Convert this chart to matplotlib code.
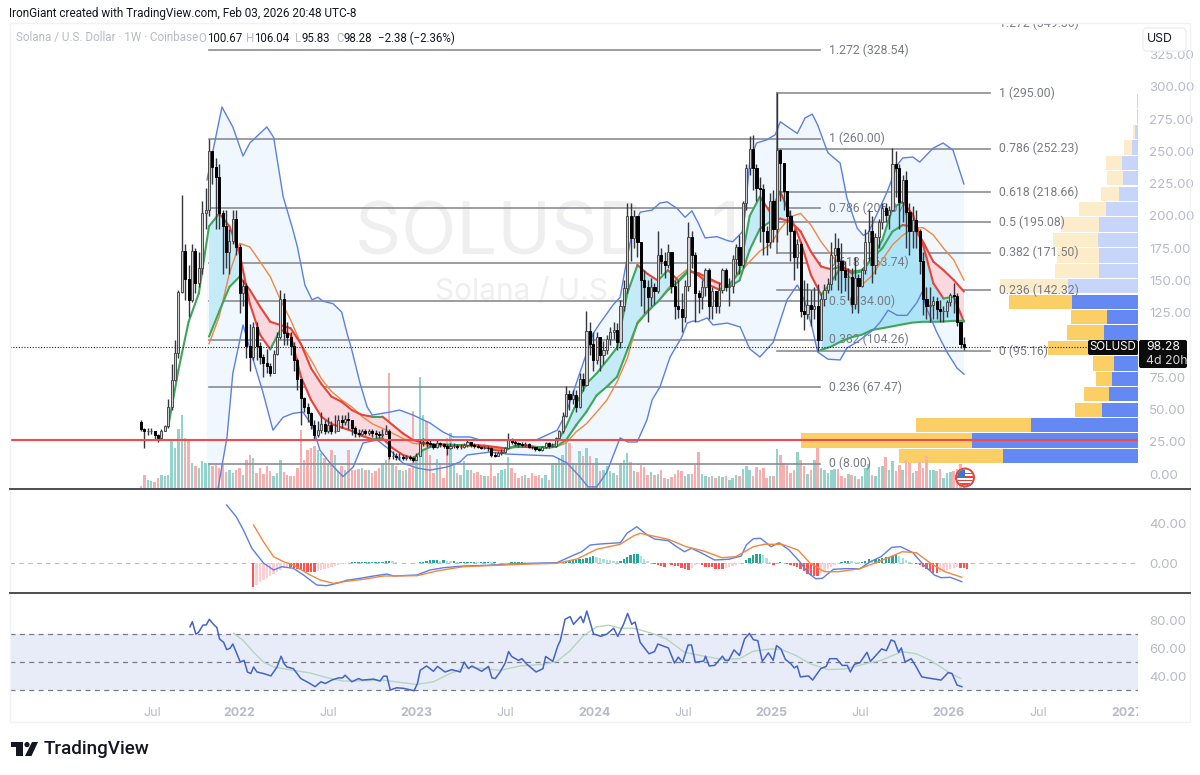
import numpy as np
import matplotlib
matplotlib.use("Agg")
import matplotlib.pyplot as plt
from matplotlib.patches import Rectangle, Circle, FancyBboxPatch, Polygon

plt.rcParams["font.family"] = ["Inter", "DejaVu Sans"]

# weekly candles
closes = [35,33,33,33,30,28,33,37,52,73,94,141,173,151,135,173,148,160,202,205,250,238,230,202,192,172,181,198,176,140,
          146,99,91,114,99,91,86,84,78,93,106,136,109,106,99,88,74,59,52,47,38,30,34,39,33,38,33,33,42,40,
          43,42,36,32,31,33,32,33,32,31,30,31,33,14,14,13,13,12.5,13,12.5,11,14,24,25,24,23.5,21,24,23,22,
          20.5,22,22,21,21,22.5,25,22.5,22,21,20.5,20.5,20,14.5,14,16,17,20,26,25,24,23,22.5,23,21,20.7,19,18.5,21,23.7,
          22,22,28,33,45,62,58,61,52,74,69,111,101,88,106,92,96,105,110,112,102,130,144,200,183,200,180,150,145,137,
          145,142,170,165,162,172,146,130,128,122,146,184,170,140,137,145,158,130,142,130,143,158,145,146,167,176,162,210,237,252,
          237,222,221,188,180,212,190,251,241,219,200,188,168,178,126,124,131,128,130,104,136,143,147,170,175,165,158,153,153,132,
          152,146,158,180,188,162,184,195,206,201,205,240,237,211,228,203,188,197,188,165,136,130,131,134,128,126,126,133,139,138,
          118,100.67,98.28]
opens = [40] + closes[:-1]
highs = [42,36,36,36,33,31,35,38,58,85,104,143,216,178,162,178,175,172,212,222,260,250,245,240,205,205,190,205,205,178,
         150,148,116,118,118,102,93,97,86,96,110,143,140,118,110,102,90,74,60,55,48,42,41,48,42,44,41,46,46,46,
         46,48,42,37,35,35,35,35,35,34,33,35,38,35,18,16,16,15,15,15,14,16,26,28,27,26,24,26,25,24,
         23,24,24,23,23,24,27,25,24,23,22,22,22,21,17,18,19,21,32,28,26,25,25,25,24,22,21,20,22,25,
         25,24,29,34,48,68,65,65,65,78,78,126,118,110,110,103,103,108,114,118,117,135,150,210,210,205,200,180,158,150,
         152,148,188,175,172,178,170,150,150,140,150,195,188,172,143,150,160,160,145,140,148,160,160,152,170,178,185,212,240,262,
         263,240,230,225,192,218,220,295,252,240,218,205,190,182,180,150,148,143,145,147,140,147,152,180,187,183,179,165,160,160,
         168,155,160,190,205,200,187,198,210,210,208,253,250,240,232,235,210,208,205,190,172,145,145,138,137,135,130,135,140,148,
         140,118,106.04]
lows = [33,20,30,31,26,25,28,35,36,50,72,90,140,135,122,133,140,145,155,190,200,225,190,190,155,160,155,178,170,125,
        130,90,80,88,88,85,75,78,76,78,92,105,100,100,92,80,65,38,48,40,35,26,29,32,31,32,31,32,35,36,
        38,35,30,29,29,30,30,30,29,28,28,29,31,12,12,11,11,11,11,11,9.6,11,14,22,21,21,19,20,21,20,
        15,19,20,19,19,20,21,21,20,20,19,19,18,13,13,14,15,16,20,23,22,21,21,21,20,19,18,18,18,20,
        20,21,21,27,32,44,50,54,48,51,64,68,92,80,85,80,85,93,100,105,96,98,126,140,165,175,168,130,125,118,
        130,132,140,155,152,160,140,120,121,110,118,142,160,118,125,128,138,120,120,125,125,140,142,130,140,155,155,160,205,232,
        220,212,180,170,170,175,180,180,212,205,185,165,150,160,122,112,120,115,120,95.16,118,130,140,143,150,143,140,142,135,125,
        128,125,145,155,165,148,155,175,190,195,190,204,215,190,195,175,170,175,175,155,123,120,118,120,120,118,118,122,130,125,
        115,98,95.83]
volumes = [2,13,8,7,6,10,13,12,13,47,40,59,73,50,48,25,22,20,27,25,25,22,23,20,23,16,18,15,18,20,
           13,28,33,30,15,20,14,22,17,12,15,28,16,13,12,12,20,58,28,38,40,42,38,35,30,25,38,33,17,22,
           18,38,18,18,19,20,18,18,15,17,20,25,28,115,25,22,18,17,18,20,77,42,111,73,67,33,15,29,25,10,
           50,55,25,15,13,27,18,18,15,16,13,12,12,25,12,15,18,19,31,20,15,10,12,13,10,15,12,13,10,13,
           8,25,25,30,33,47,45,25,23,37,32,40,32,23,30,17,18,22,17,15,13,25,28,35,26,17,16,23,21,13,
           16,13,14,18,10,9,11,14,18,17,12,14,14,23,36,14,12,11,12,10,12,11,12,8,10,13,12,19,22,18,
           12,21,18,20,10,12,12,39,33,25,23,15,18,36,28,22,14,18,28,40,20,18,15,18,19,19,12,10,14,13,
           12,9,12,20,24,13,12,21,22,31,18,27,17,23,18,28,25,15,17,26,20,32,18,18,17,19,10,15,16,17,
           19,24,12]

# moving averages sampled every three weeks
ma_weeks = np.arange(8, 243, 3)
fast_ma = [36.7,80.6,118,140,192,202,192,171,132,108,96.6,112,108,75.5,57.4,44.5,38.8,36,33.4,29.5,26.9,27.7,20,14.8,12.2,18.6,
           22,23,22.5,22,22.5,21,18.5,18,22,22.5,21,21,23,36.7,54.7,70,78,88,98,140,162,155,150,158,150,158,154,146.6,143,146.6,
           157,200,215,203,219,200,180,154.3,139,149,161,155.6,157,167,181.4,206,211,201,177.6,147.9,136,137.5,118]
slow_ma = [106.5,126,145,153,142.7,129.7,118,115.5,113,101,82,70,60,56,49.6,45.8,44.5,44.5,38,31.5,26.4,24,23,22.5,22.5,22.5,
           22.5,22,21,20,21,21,20.5,20.5,21,26.3,38,48.3,61,67.7,75.4,96,116.8,125.9,133.6,142.7,149,157,155.6,151.7,147.8,145,
           150,173.7,190,195.6,198,195.6,188,172.4,160.8,158.7,161,156.9,158,167,175,188,193,191.8,180,164.6,158,150.4,141.4]
long_ma = [101,122,155.6,178.8,176,164.6,153,135,119.4,101,88.4,74,64,57.4,52,44.5,39,35.4,31.5,27.7,23.8,23,21.5,22,21.5,21.5,
           21.5,21,20,20,20.5,21,20,20,21,24,32.8,39,48,57.3,71.5,89.6,118,127,133.6,144,153,159.5,153.5,150,147.8,146.6,
           155.6,164.6,172.9,177.6,190,199.5,202,193,180,169.8,160.8,150.4,146.5,153.8,166,177.6,185,190.5,191,185.3,175,166,150.4]
anchor_ma = [96.2,98.8,103,106,108,111.7,113,114.5,116,117.4,118,118,118.2,118.7,118.7]

# bollinger bands
upper_weeks = [19.4,23.8,27,30,32,37,39,41.8,44.7,46,48.2,50.3,52,53.5,56.5,59,60.6,62,64.4,66.5,68,73.2,76,80,85,88.8,91.8,96.8,99.7,
               105.6,115.9,122.4,125,129,133,135,138.8,140.9,143,144.4,146.8,150.3,152.6,154.7,157.6,160,162,163.8,165.9,169.4,
               172.4,174,176.8,177.6,179,181,184,186.5,188,193,195.3,197.4,199,202,205.6,207.6,210.6,212.4,213.8,215.3,219.4,
               222.4,224,227,229,233,235.9,238.8,242]
upper_band = [228,284.5,269,246.5,256.6,269,261,215,189,176,146.5,135,137,134,132,125.6,109,96,70.5,52,45.7,48,49.6,45.7,39.5,32.6,28.7,28.7,26.4,
              26,26,34,47,78,109,117,131,137,168,187,203,204.6,210,211,206,199,204,195,183,184,
              181,180,187.6,200,242,256.6,259,263,273,264,276,279,270.5,249,241,214,190.7,185,186.8,195,218.6,
              239.5,245,245.7,241.8,252.7,256.6,251,224.8]
lower_weeks = [19.4,22.6,25.3,27,30,33,35.9,38.8,41.8,44.7,47.6,50.3,52.6,55.6,59.4,62.4,65.3,69.4,73.2,77,81.2,85,90,93.8,95.9,102.6,107.6,
               114.4,121.2,125.3,129,131.5,134,137,140.9,143.2,145.9,148.8,150.3,152.6,155.6,159,160.6,162.4,163.8,166.5,168.2,172.4,
               176.2,179,182,185.9,190,193,193.8,195.3,197.4,199,202,205.6,207.6,210.6,215.3,217.4,219.7,222.4,225.3,228.2,229.7,231,
               234,237,240,242]
lower_band = [-60,-12,28.7,78,115.5,88.4,62.8,34,44,47,48,38,18.6,8.5,-2,5.4,24,26.4,18.6,8.5,4.6,3,5.4,9.3,14.7,17,15.5,
              14.7,14,8.5,-2,-10,-10,1.5,28,24.8,24.8,42,57.4,67.4,90.7,106,117,118.6,118,121,115.5,117,
              114,97,90.7,102,135,146.5,142.6,133,113,94.6,89,88.4,97.7,102.3,111.6,117.8,127,123,123,133,141,128.6,
              110,94.6,82,77.5]

# fibonacci retracements
fib_ratios_a = [1.272,1,0.786,0.618,0.5,0.382,0.236,0]
fib_prices_a = [328.54,260.00,206.07,163.74,134.00,104.26,67.47,8.00]
fib_ratios_b = [1.272,1,0.786,0.618,0.5,0.382,0.236,0]
fib_prices_b = [349.36,295.00,252.23,218.66,195.08,171.50,142.32,95.16]

# volume profile, 24 rows from 8 to 295
vp_up = [135,166,107,36,29,26,24,42,34,31,66,70,39,39,40,39,32,19,15,16,6,3,0.5,0.5]
vp_down = [104,171,115,27,25,16,21,48,37,36,63,68,44,42,45,38,27,18,16,16,8,2,0.5,0.5]
vp_solid_rows = 11

# macd
macd_weeks = [25.2,28,30.1,32.6,36,39,41.4,44.8,47.8,51.7,54.6,57.6,60.5,64.4,68.4,72.3,74.3,81.1,85,89,94.8,101.7,108.6,114.4,122.3,126.2,129.6,
              132.1,135,141,142.9,145.8,148.9,151,155.1,157.2,159.8,161.9,165,168.7,172.8,176.5,178,180.1,182.2,185.3,187.6,190.6,193.7,196.3,
              198.4,200.4,203.6,207.2,211.4,214.5,217.6,220.8,223.4,227,230.1,233.3,235.3,238,241.4]
macd_line = [58,46.3,33,14.7,0,-7,-3.7,-5.3,-12,-22,-22.7,-20.3,-17.3,-15.3,-13,-11,-13,-12,-7,-4.7,-3,-2.3,-1,-0.3,0.3,6.3,11.3,
             18,19,20.3,29.7,36.3,28,24,22.3,17,11.3,14.7,9.7,3,3.7,7,18,24.3,24.7,16.3,20.3,13,1.3,-10.3,
             -15.7,-15.3,-6.3,-5.7,-5.7,1.3,6.3,15.7,16.3,10.3,-1.7,-12,-14.7,-14.3,-18.7]
signal_weeks = [33.1,36,39,41.9,44.8,48.8,52.7,56.6,60.5,65.4,71.3,81.1,87,94.8,104.6,114.4,122.3,128.2,134,140.9,144.8,146.8,155.1,160.3,165.5,170.8,
                174.9,180.1,183.3,188.5,193.2,196.8,201,205.1,211.4,217.6,223.9,228,232.2,236.4,241.4]
signal_line = [38,21.3,6.3,1.3,-2,-10.3,-17,-20.3,-18.3,-16.3,-13,-12.7,-8,-3.7,-2.3,-1,-0.3,4,13.7,18.7,27,29.7,23.7,16.3,12,5.3,
               6.3,16.3,18.7,18.7,13,-0.3,-8.7,-8.7,-5.7,2.3,11.3,10.3,-0.3,-8.7,-14.3]
hist_start = 33
macd_hist = [-24,-21.5,-19,-17,-15,-13,-11,-9,-7,-5,-3.5,-4,-5,-6,-7,-8,-8.5,-9,-9,-8,-7,-6,-5,-4,-3,-2,-1,-0.5,
             0.5,1,1,1,1,1,1.2,1.2,1.5,1.5,1.5,2,2.5,2,1,0.5,0.3,0.3,0.3,0.5,0.5,1,1.5,2.5,3,3,3,2.5,3,2.5,2,2,1.5,1.5,1.5,1.5,1.5,1.5,
             1,1,1,1,0.7,0.7,0.3,0.3,0.3,0.5,0.7,1,1,1.2,0.8,0.5,0.3,0.2,0.2,-0.3,-0.3,-0.3,-0.2,0.2,0.5,1,2,2.5,3,3.5,4,4.5,5,6.5,7.5,
             6,5,4.5,3.5,3,2.5,2,2.5,4,6,8,9,9.5,7,4.5,2,0.5,-1,-2,-3,-3.5,-1,-1.5,-2.5,-3,-4.5,-6,-7,-5,-2,-1,-2,-3.5,-4,-4,-5.5,-6,-6,
             -5,-4,-3,-2,-1,0.5,3,5.5,8,9,9,8.5,5,1,-2,0.3,1.5,0.5,-1,-1.5,-2.5,-4,-6,-8,-11,-12,-13,-13,-10,-8,-6,-4,-2,-1,
             1,2,2.5,2,1.5,1,1,2,4,3.5,4,4.5,5,6,6.5,7,8,7,5,3,1,0.3,-0.5,-2,-4,-6,-8,-10,-10,-9,-8,-7,-6,-5,-4,-4.5,-5,-5.5]

# rsi
rsi_weeks = [14.4,15.1,16.1,16.9,18.2,19.2,20.1,21.3,22.3,23.1,24.3,25.2,26.2,27,28,29.2,30.3,31.3,32.3,33.1,34.1,36,38.2,40,41.2,42.1,42.9,44.8,47,49.3,
             51.2,52.9,54.2,56.1,58.1,59.3,60,62,64,65,68.4,70.3,71.3,72.3,73.3,75.2,77.2,80.3,81.3,82.1,84,86,87.2,89.4,91.4,93.9,95,96.3,97.3,100.2,
             102.2,103.2,104.2,105.6,107.1,108.1,109,111,112,113.5,116.2,118.2,119,121.1,122.6,123.3,124.7,126.2,127.2,129.3,130.1,131.1,133.1,134,135.2,137,139,140.2,141.9,143.1,
             144.3,145.3,146.8,149.4,151,152,155.1,156.9,158,159.3,160.9,161.9,163,165.5,166,167.1,168.7,171,171.8,172.8,174.4,176,177.5,178.9,180.1,181.4,182.7,184.5,185.9,186.9,
             188.2,189.5,191.1,192.1,193,193.9,196.3,197.5,199.9,201.5,202.5,204.6,206.2,207.7,208.6,209.8,211.4,213.5,214.5,216.1,217.8,219.2,220.6,221.6,222.8,223.6,224.7,226.5,228,229.6,
             231.2,235.3,237.4,238.5,240,241.4]
rsi_line = [75.2,78.9,70,71.2,76.4,76.6,80.6,77,74.7,66.5,64.1,58.9,59.9,62.9,57,50,51.2,42.9,41.8,46.5,42.9,41.8,40.1,46.5,54.2,48.8,46.5,45.3,38.2,35.2,
            32.4,35.9,34.7,37.1,38.7,38.7,40.6,35.9,38.2,37.1,37.8,36.4,39.9,39.9,30,31.6,31.2,29.5,34.7,44.1,47.2,43.4,46.9,42.9,44.6,42.9,50,45.3,47.2,43.4,
            46.9,38.7,38.2,42.9,49.3,57.5,54,51.2,52.4,48.4,42.9,45.3,54,50.5,61.8,65.3,80.6,82.5,77,82.7,78.2,86.5,70,69.5,68.4,70,74.2,68.4,77,84.8,
            77,78.7,64.1,55.9,57.5,62.9,60.1,49.3,53.5,49.8,62.2,62.2,49.8,50.7,54.2,47.2,47.6,54.2,51.2,51.2,58.7,54.7,66.5,70.5,66,65.3,50.5,56.6,51.2,61.8,
            59.4,51.9,48.8,45.8,47.2,39.4,40.1,37.1,45.3,46.9,52.4,52.4,47.6,47.6,42.9,48.4,49.5,57,50.5,54.7,59.4,58.2,65.8,64.8,57,60.1,50,52.4,46.5,39.4,
            38.7,37.1,42.5,41.8,33.5,32.4]
rsi_ma_weeks = [27.2,30.1,33.1,36,39,42.9,49.7,54.6,59.5,65.4,71.3,76.2,81.1,86,90.9,95.8,100.7,105.6,111.5,118.4,122.3,126.2,130.1,134,137.5,140.9,144.8,
                146.8,151,154.6,159.8,164.5,170.8,176,180.1,185.3,188.5,192.6,196.8,202,207.2,212.4,217.6,223.9,228,232.2,237.4,241.1]
rsi_ma = [70.7,65.3,57.1,50,46.5,44.8,42.2,38.9,36.4,36.6,37.1,35.4,34,35.9,41.8,46.5,45.3,44.1,47.2,48.4,50.5,58.2,68.8,75.2,76.4,74.2,74.2,
          73,70,66.5,57,54.7,51.9,52.4,57.8,59.4,58.9,54.7,48.8,44.6,45.1,48.4,51.2,57.5,55.9,51.2,42.9,38.2]

# 100.00 sits behind the last price tag
price_ticks = [0,25,50,75,125,150,175,200,225,250,275,300,325]
macd_ticks = [0, 40]
rsi_ticks = [40, 60, 80]
time_weeks = [3.2,29,55,81,107,133.5,159.5,185.5,211.5,237.5,264,290]
time_labels = ["Jul","2022","Jul","2023","Jul","2024","Jul","2025","Jul","2026","Jul","2027"]

last_price = 98.28
support = 26
ohlc_parts = [(198,"O",0),(207,"100.67",1),(246,"H",0),(254,"106.04",1),(295,"L",0),(301,"95.83",1),
              (336,"C",0),(343,"98.28",1),(378,"\u22122.38 (\u22122.36%)",1)]

GREY = "#787b86"
AXIS = "#b8bbc4"
DARK = "#131722"
W, H = 1200, 775


def pane(top, bottom):
    return fig.add_axes([10 / W, 1 - bottom / H, 1128 / W, (bottom - top) / H])


def clean(ax, ticks, fmt="{:.2f}"):
    for s in ax.spines.values():
        s.set_visible(False)
    ax.patch.set_alpha(0)
    ax.set_xlim(-38.53, 293.2)
    ax.set_xticks([])
    ax.yaxis.tick_right()
    ax.set_yticks(ticks)
    ax.set_yticklabels([fmt.format(t) for t in ticks])
    ax.tick_params(axis="y", length=0, labelsize=9.6, labelcolor=AXIS, pad=8)


def sloped(ax, xs, ys, lw, z):
    # line colour follows the slope of each stretch
    for i in range(len(xs) - 1):
        c = "#3ea65a" if ys[i + 1] >= ys[i] else "#ea4335"
        ax.plot(xs[i:i + 2], ys[i:i + 2], color=c, lw=lw, zorder=z, solid_capstyle="round")


fig = plt.figure(figsize=(12, 7.75), dpi=100, facecolor="white")
ax = pane(23, 488)
macd_ax = pane(489, 592)
rsi_ax = pane(594, 697)
clean(ax, price_ticks)
clean(macd_ax, macd_ticks)
clean(rsi_ax, rsi_ticks)
y0, y1 = -10.85, 349.6
ax.set_ylim(y0, y1)
macd_ax.set_ylim(-29, 74)
rsi_ax.set_ylim(25, 98.7)

weeks = np.arange(len(closes))
o, c, hi, lo = map(np.array, (opens, closes, highs, lows))
up = c >= o

# watermark
ax.text(63, 185, "SOLUSD \u00b7 1W", fontsize=52, color="#efefef", ha="left", va="center", zorder=0.5)
ax.text(86.5, 141, "Solana / U.S. Dollar", fontsize=21.5, color="#efefef", ha="left", va="center", zorder=0.5)

# band fill
ax.fill(np.r_[upper_weeks, lower_weeks[::-1]], np.r_[upper_band, lower_band[::-1]], color="#f1f7fe", lw=0, zorder=1)

# volume profile on the right edge
rows = np.linspace(8, 295, 25)[:-1] + 287 / 48
vp_u = np.array(vp_up) / 3.4
vp_d = np.array(vp_down) / 3.4
right = 293.2
for i in range(24):
    solid = i < vp_solid_rows
    ax.barh(rows[i], vp_u[i], left=right - vp_u[i], height=11.0, color="#6489f2" if solid else "#c8d5fb", lw=0, zorder=2)
    ax.barh(rows[i], vp_d[i], left=right - vp_u[i] - vp_d[i], height=11.0, color="#fbcf66" if solid else "#fdecca", lw=0, zorder=2)

# volume bars
vol_scale = (y1 - y0) / 465
ax.bar(weeks, np.array(volumes) * vol_scale, bottom=y0, width=0.72,
       color=np.where(up, "#93d3cb", "#f7aeae"), lw=0, zorder=3)

# fib levels
for r, p in zip(fib_ratios_a, fib_prices_a):
    ax.plot([20, 199.7], [p, p], color="#8a8c94", lw=1.2, zorder=4)
    ax.text(202.2, p, f"{r:g} ({p:.2f})", color=GREY, fontsize=8.8, family="Roboto", va="center", zorder=6, clip_on=True)
for r, p in zip(fib_ratios_b, fib_prices_b):
    ax.plot([187, 249.7], [p, p], color="#8a8c94", lw=1.2, zorder=4)
    ax.text(252.2, p, f"{r:g} ({p:.2f})", color=GREY, fontsize=8.8, family="Roboto", va="center", zorder=6, clip_on=True)
ax.plot([187, 187], [fib_prices_b[1], fib_prices_b[5]], color="#777a82", lw=1.2, zorder=4)

# ribbon
slow_weeks = ma_weeks[-len(slow_ma):]
fast_part = np.array(fast_ma[-len(slow_ma):])
slow_arr = np.array(slow_ma)
ax.fill_between(slow_weeks, fast_part, slow_arr, where=fast_part >= slow_arr, interpolate=True, color="#c5ebf9", lw=0, zorder=5)
ax.fill_between(slow_weeks, fast_part, slow_arr, where=fast_part < slow_arr, interpolate=True, color="#f9d8e0", lw=0, zorder=5)
anchor_weeks = ma_weeks[-len(anchor_ma):]
ax.fill_between(anchor_weeks, fast_ma[-len(anchor_ma):], anchor_ma, color="#aee4f7", lw=0, zorder=5)

ax.plot(ma_weeks[-len(long_ma):], long_ma, color="#f0883e", lw=1.0, zorder=7)
sloped(ax, ma_weeks, fast_ma, 1.5, 7.1)
sloped(ax, slow_weeks, slow_ma, 1.5, 7.1)
ax.plot(anchor_weeks, anchor_ma, color="#3ea65a", lw=1.5, zorder=7.1)
ax.plot(upper_weeks, upper_band, color="#5b80e0", lw=1.0, zorder=7.2)
ax.plot(lower_weeks, lower_band, color="#5b80e0", lw=1.0, zorder=7.2)

# candles
ax.vlines(weeks, lo, hi, color="#33363f", lw=1.0, zorder=8)
ax.bar(weeks, np.abs(c - o), bottom=np.minimum(o, c), width=0.62,
       color=np.where(up, "#d0d0d0", "#000000"), edgecolor=np.where(up, "#4a4a4a", "#000000"), lw=0.7, zorder=8.1)

ax.axhline(support, color="#ee4b4b", lw=1.5, zorder=9)
ax.axhline(last_price, color="#222222", lw=0.8, ls=(0, (1, 1.5)), zorder=9)

# macd pane
macd_ax.axhline(0, color=AXIS, lw=0.8, ls=(0, (4, 4)), zorder=1)
hist_weeks = hist_start + np.arange(len(macd_hist))
prev = np.r_[macd_hist[0], macd_hist[:-1]]
hist = np.array(macd_hist)
hist_colors = np.where(hist >= 0, np.where(hist >= prev, "#26a69a", "#b2dfdb"),
                       np.where(hist <= prev, "#ff5252", "#ffcdd2"))
macd_ax.bar(hist_weeks, hist, width=0.7, color=hist_colors, lw=0, zorder=2)
macd_ax.plot(macd_weeks, macd_line, color="#5b80e0", lw=1.0, zorder=3)
macd_ax.plot(signal_weeks, signal_line, color="#f0883e", lw=1.0, zorder=3)

# rsi pane
rsi_ax.axhspan(30, 70, color="#e8ecf9", lw=0, zorder=1)
for lvl in (30, 50, 70):
    rsi_ax.axhline(lvl, color=GREY, lw=0.9, ls=(0, (4, 3.5)), zorder=2)
rsi_ax.plot(rsi_ma_weeks, rsi_ma, color="#b5d5bf", lw=1.0, zorder=3)
rsi_ax.plot(rsi_weeks, rsi_line, color="#4263c8", lw=1.1, zorder=4)
rsi_ax.set_xticks(time_weeks)
rsi_ax.set_xticklabels(time_labels)
rsi_ax.tick_params(axis="x", length=0, pad=7, labelsize=9, labelcolor=AXIS)
for t in rsi_ax.get_xticklabels():
    if t.get_text() != "Jul":
        t.set_fontweight("bold")

# page furniture, in pixels
ov = fig.add_axes([0, 0, 1, 1], zorder=10)
ov.set_xlim(0, W)
ov.set_ylim(H, 0)
ov.axis("off")
ov.patch.set_alpha(0)
ov.add_patch(Rectangle((1138, 699), 50, 20, color="white", lw=0))
ov.add_patch(Rectangle((10, 23), 1180, 699, fill=False, edgecolor="#f1f2f5", lw=1))
ov.plot([10, 1190], [488.5, 488.5], color="#4a4d57", lw=1.4)
ov.plot([10, 1190], [593, 593], color="#4a4d57", lw=1.4)
ov.add_patch(FancyBboxPatch((1143, 28), 43, 23, boxstyle="round,pad=0,rounding_size=4", fc="white", ec="#eceef2", lw=1))
ov.text(1160, 39, "USD", fontsize=8.8, color=DARK, ha="center", va="center")

ov.text(9, 14, "IronGiant created with TradingView.com, Feb 03, 2026 20:48 UTC-8", fontsize=8.5, family="Roboto", color=DARK, va="center")
ov.text(16, 38, "Solana / U.S. Dollar \u00b7 1W \u00b7 Coinbase", fontsize=8.4, family="Roboto", color=AXIS, va="center")
for x, s, dark in ohlc_parts:
    ov.text(x, 38, s, fontsize=8.3, family="Roboto", color=DARK if dark else AXIS, va="center")

# last price tags
ov.add_patch(FancyBboxPatch((1088, 340), 50, 15, boxstyle="round,pad=0,rounding_size=2", fc="#0c0c0c", ec="none"))
ov.text(1113, 347.5, "SOLUSD", fontsize=8.3, color="white", ha="center", va="center")
ov.add_patch(FancyBboxPatch((1139, 340), 48, 28, boxstyle="round,pad=0,rounding_size=2", fc="#0c0c0c", ec="none"))
ov.text(1146, 347.5, f"{last_price:.2f}", fontsize=8.8, color="white", va="center")
ov.text(1146, 361, "4d 20h", fontsize=8.8, color="#d8d8d8", va="center")

# flag badge
badge = Circle((965, 477.5), 9, fc="white", ec="#e8403a", lw=1.4, zorder=12)
ov.add_patch(badge)
clip = Circle((965, 477.5), 8, transform=ov.transData)
for yy in (472.5, 476, 479.5, 483):
    st = ov.add_patch(Rectangle((955, yy), 20, 1.7, color="#e8403a", lw=0, zorder=13))
    st.set_clip_path(clip)
cant = ov.add_patch(Rectangle((956, 469), 9, 7.5, color="#3b78c9", lw=0, zorder=14))
cant.set_clip_path(clip)

# logo
ov.add_patch(Polygon([(11, 742), (22.5, 742), (22.5, 756), (16, 756), (16, 747), (11, 747)], color="#131722", lw=0))
ov.add_patch(Circle((27, 744.6), 2.6, color="#131722", lw=0))
ov.add_patch(Polygon([(32, 742), (38, 742), (31.5, 756), (25, 756)], color="#131722", lw=0))
ov.text(44, 749, "TradingView", fontsize=13.6, family="Roboto", fontweight="medium", color="#131722", va="center")

plt.savefig("out.png", dpi=100, facecolor="white")
